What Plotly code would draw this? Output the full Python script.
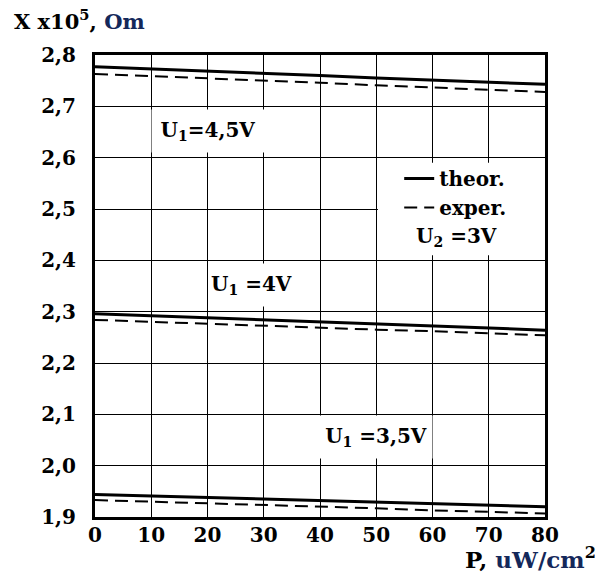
import plotly.graph_objects as go

P = [0, 10, 20, 30, 40, 50, 60, 70, 80]

theor_45 = [2.777, 2.773, 2.768, 2.764, 2.760, 2.755, 2.751, 2.747, 2.743]
exper_45 = [2.763, 2.759, 2.755, 2.750, 2.746, 2.741, 2.737, 2.732, 2.728]
theor_40 = [2.296, 2.292, 2.288, 2.284, 2.280, 2.276, 2.272, 2.268, 2.264]
exper_40 = [2.284, 2.280, 2.277, 2.273, 2.269, 2.265, 2.262, 2.258, 2.254]
theor_35 = [1.944, 1.941, 1.938, 1.935, 1.932, 1.929, 1.926, 1.923, 1.920]
exper_35 = [1.933, 1.930, 1.926, 1.923, 1.920, 1.917, 1.913, 1.910, 1.907]

x_ticks = [0, 10, 20, 30, 40, 50, 60, 70, 80]
y_ticks = [1.9, 2.0, 2.1, 2.2, 2.3, 2.4, 2.5, 2.6, 2.7, 2.8]
y_tick_labels = ["1,9", "2,0", "2,1", "2,2", "2,3", "2,4", "2,5", "2,6", "2,7", "2,8"]

FONT = "DejaVu Serif"
BLACK = "#000000"

fig = go.Figure()

theor_sets = [theor_45, theor_40, theor_35]
exper_sets = [exper_45, exper_40, exper_35]
for i, ys in enumerate(theor_sets):
    fig.add_trace(go.Scatter(x=P, y=ys, mode="lines", name="theor.",
                             line=dict(color=BLACK, width=3),
                             legendgroup="theor", showlegend=(i == 0)))
for i, ys in enumerate(exper_sets):
    fig.add_trace(go.Scatter(x=P, y=ys, mode="lines", name="exper.",
                             line=dict(color=BLACK, width=2, dash="13px,7px"),
                             legendgroup="exper", showlegend=(i == 0)))

# white box behind the legend block
fig.add_shape(type="rect", xref="x", yref="y", x0=50.3, x1=80, y0=2.41, y1=2.59,
              fillcolor="white", line=dict(width=0), layer="between")

ann_font = dict(family=FONT, size=20, color=BLACK, weight="bold")
fig.add_annotation(x=20, y=2.652, xref="x", yref="y", text="U<sub>1</sub>=4,5V",
                   showarrow=False, font=ann_font, bgcolor="white", width=110, height=40)
fig.add_annotation(x=30, y=2.352, xref="x", yref="y", text="U<sub>1</sub> =4V",
                   showarrow=False, font=ann_font, bgcolor="white", width=106, height=40,
                   align="left")
fig.add_annotation(x=50, y=2.055, xref="x", yref="y", text="U<sub>1</sub> =3,5V",
                   showarrow=False, font=ann_font, bgcolor="white", width=110, height=40)
fig.add_annotation(x=64.2, y=2.445, xref="x", yref="y", text="U<sub>2</sub> =3V",
                   showarrow=False, font=ann_font)

# axis titles
fig.add_annotation(x=-0.184, y=1.076, xref="paper", yref="paper",
                   text="X x10<sup>5</sup>, <span style='color:#14285a'>Om</span>",
                   showarrow=False, xanchor="left", yanchor="middle",
                   font=dict(family=FONT, size=21, color=BLACK, weight="bold"))
fig.add_annotation(x=1.118, y=-0.088, xref="paper", yref="paper",
                   text="P, <span style='color:#14285a'>uW/cm</span><sup>2</sup>",
                   showarrow=False, xanchor="right", yanchor="middle",
                   font=dict(family=FONT, size=23, color=BLACK, weight="bold"))

fig.update_layout(
    width=603, height=575,
    margin=dict(l=95, r=58, t=55, b=58),
    paper_bgcolor="white", plot_bgcolor="white",
    showlegend=True,
    legend=dict(x=0.676, y=0.775, xanchor="left", yanchor="top",
                bgcolor="rgba(0,0,0,0)", borderwidth=0,
                font=dict(family=FONT, size=20, color=BLACK, weight="bold"),
                tracegroupgap=0, itemwidth=30),
)
fig.update_xaxes(range=[0, 80], tickvals=x_ticks, ticktext=[str(v) for v in x_ticks],
                 showgrid=True, gridcolor=BLACK, gridwidth=1,
                 showline=True, linecolor=BLACK, linewidth=3, mirror=True,
                 ticks="", zeroline=False, ticklabelstandoff=-2,
                 tickfont=dict(family=FONT, size=20, color=BLACK, weight="bold"))
fig.update_yaxes(range=[1.9, 2.8], tickvals=y_ticks, ticktext=y_tick_labels,
                 showgrid=True, gridcolor=BLACK, gridwidth=1,
                 showline=True, linecolor=BLACK, linewidth=3, mirror=True,
                 ticks="", zeroline=False, ticklabelstandoff=12,
                 tickfont=dict(family=FONT, size=20, color=BLACK, weight="bold"))

fig.write_html("out.html", config={"displayModeBar": False},
               post_script="document.body.style.margin='0';document.body.style.overflow='hidden';")
